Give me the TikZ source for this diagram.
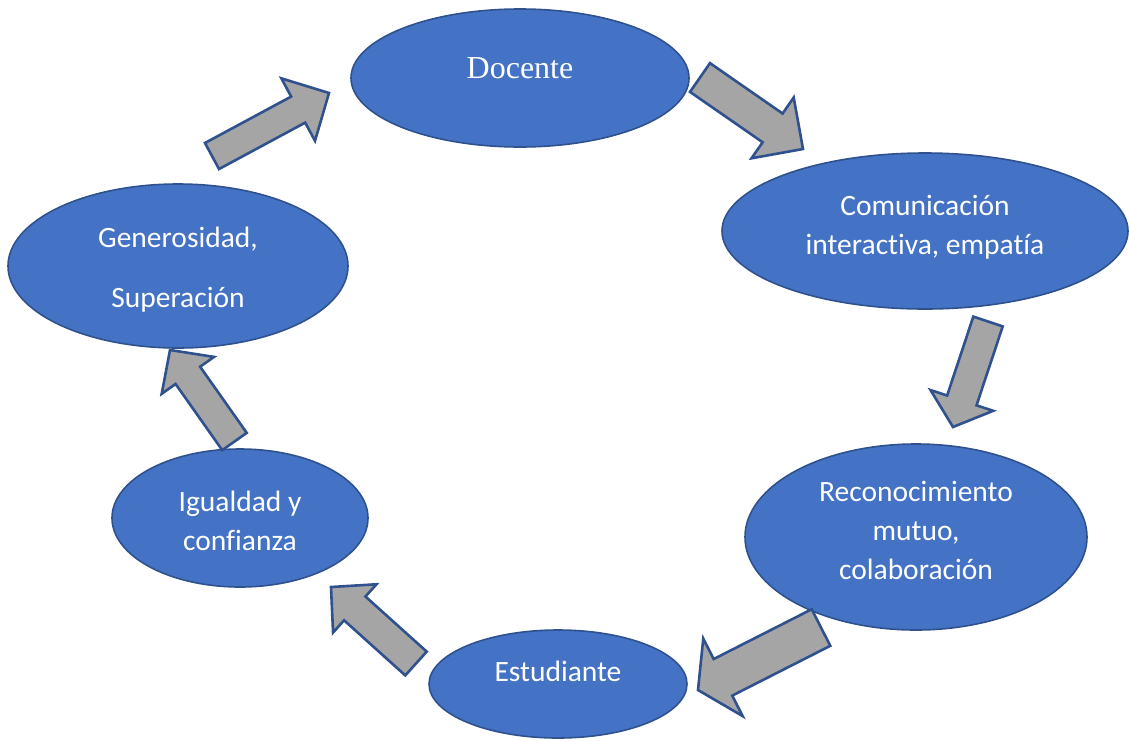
\documentclass[tikz,border=0pt]{standalone}
\usepackage{fontspec}
\setmainfont[Ligatures={NoCommon}]{Carlito}
\newfontfamily\docfont{Liberation Serif}
\usetikzlibrary{shapes.geometric,calc}
\definecolor{bubblefill}{HTML}{4472C4}
\definecolor{bubbleline}{HTML}{2F528F}
\definecolor{arrowfill}{HTML}{A5A5A5}
\tikzset{
  ashaft/.store in=\ashaft, ahw/.store in=\ahw, ahl/.store in=\ahl,
  ashaft=15pt, ahw=34pt, ahl=32pt,
  bubble/.style={ellipse, draw=bubbleline, fill=bubblefill, line width=1.6pt, inner sep=0pt},
  lbl/.style={text=white, font=\fontsize{29.5}{39}\selectfont, align=center},
  blockarrow/.style={draw=bubbleline, fill=arrowfill, line width=2.6pt, line join=miter,
    to path={let \p1=(\tikztostart), \p2=(\tikztotarget), \p3=($(\p2)!\ahl!(\p1)$) in
      ($(\p1)!\ashaft!-90:(\p2)$) -- ($(\p3)!\ashaft!-90:(\p2)$) -- ($(\p3)!\ahw!-90:(\p2)$) -- (\p2)
      -- ($(\p3)!\ahw!90:(\p2)$) -- ($(\p3)!\ashaft!90:(\p2)$) -- ($(\p1)!\ashaft!90:(\p2)$) -- cycle}}
}
\begin{document}
\begin{tikzpicture}[x=1pt,y=-1pt]
\useasboundingbox (0,0) rectangle (1129,740);
\node[bubble, minimum width=338pt, minimum height=138pt,
  label={[lbl, font=\docfont\fontsize{32}{38}\selectfont, yshift=10pt]center:Docente}] (doc) at (520,78) {};
\node[bubble, minimum width=406pt, minimum height=156pt,
  label={[lbl, yshift=4pt]center:Comunicación\\interactiva, empatía}] (com) at (925,231) {};
\node[bubble, minimum width=342pt, minimum height=186pt,
  label={[lbl, yshift=7pt]center:Reconocimiento\\mutuo,\\colaboración}] (rec) at (916,537) {};
\node[bubble, minimum width=258pt, minimum height=108pt,
  label={[lbl, yshift=13pt]center:Estudiante}] (est) at (558,684) {};
\node[bubble, minimum width=256pt, minimum height=138pt,
  label={[lbl, yshift=-3pt]center:Igualdad y\\confianza}] (igu) at (240,518) {};
\node[bubble, minimum width=340pt, minimum height=164pt,
  label={[lbl, yshift=-4pt]center:Generosidad,\\[21pt]Superación}] (gen) at (178,266) {};
\coordinate (t1) at (212,156); \coordinate (h1) at (329,93);
\coordinate (t2) at (700,77.5); \coordinate (h2) at (803,149);
\coordinate (t3) at (988,321.5); \coordinate (h3) at (953,427);
\coordinate (t4) at (821,627.5); \coordinate (h4) at (698,690);
\coordinate (t5) at (416,663.5); \coordinate (h5) at (331,587);
\coordinate (t6) at (234.5,441.5); \coordinate (h6) at (170,350);
\draw[blockarrow, ashaft=14.8pt, ahw=35.5pt, ahl=35pt] (t1) to (h1);
\draw[blockarrow, ashaft=17.5pt, ahw=37pt, ahl=37pt] (t2) to (h2);
\draw[blockarrow, ashaft=15.5pt, ahw=33pt, ahl=28pt] (t3) to (h3);
\draw[blockarrow, ashaft=20.5pt, ahw=43.5pt, ahl=28pt] (t4) to (h4);
\draw[blockarrow, ashaft=16pt, ahw=32.5pt, ahl=32pt] (t5) to (h5);
\draw[blockarrow, ashaft=15pt, ahw=32pt, ahl=31pt] (t6) to (h6);
\end{tikzpicture}
\end{document}
